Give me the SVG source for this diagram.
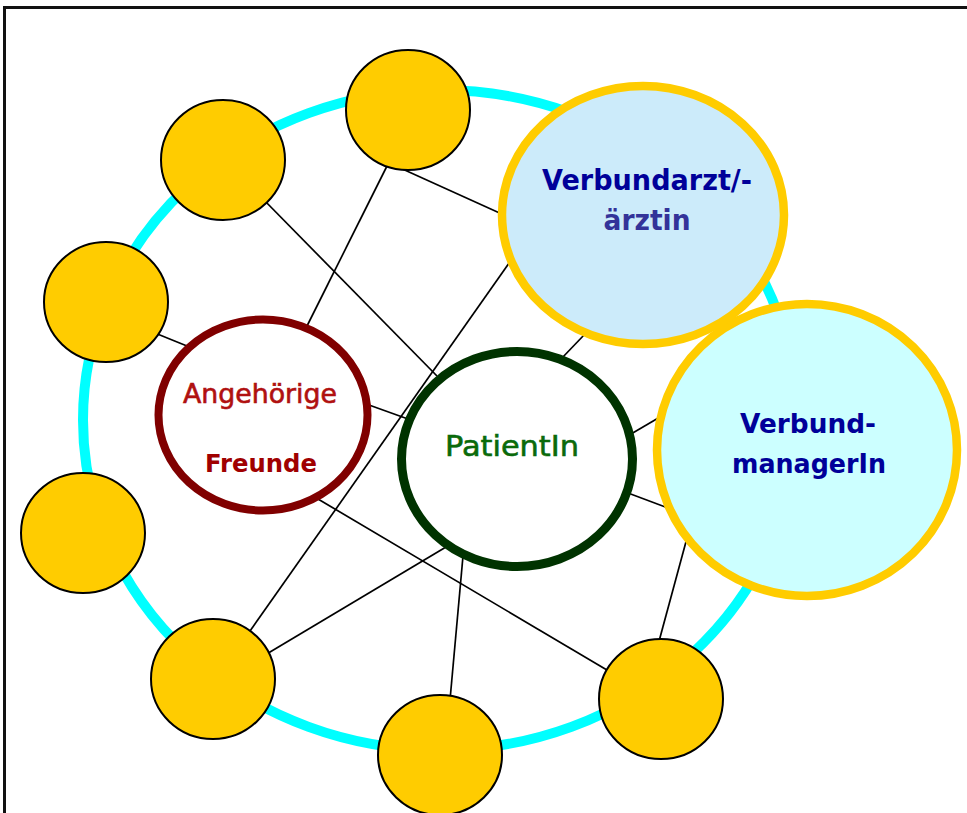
<svg xmlns="http://www.w3.org/2000/svg" width="967" height="813" viewBox="0 0 967 813">
  <style>
    .frame { fill: none; stroke: #111; stroke-width: 3; }
    .ring { fill: none; stroke: #00FFFF; stroke-width: 10; }
    .link { stroke: #000; stroke-width: 1.7; fill: none; }
    .member { fill: #FFCC00; stroke: #000; stroke-width: 2; }
    .lbl { font-family: "DejaVu Sans", Verdana, sans-serif; text-anchor: middle; }
    .thick { stroke-width: 0.6; }
  </style>

  <rect class="frame" x="4.5" y="7.5" width="1000" height="900"/>

  <!-- network ring -->
  <ellipse class="ring" cx="440" cy="420" rx="357" ry="330"/>

  <!-- connectors -->
  <g id="connectors">
    <line class="link" x1="390" y1="160" x2="306" y2="328"/>
    <line class="link" x1="398" y1="167" x2="504" y2="215"/>
    <line class="link" x1="262" y1="198" x2="437" y2="376"/>
    <line class="link" x1="150" y1="331" x2="187" y2="346"/>
    <line class="link" x1="250" y1="631" x2="512" y2="259"/>
    <line class="link" x1="265" y1="655" x2="446" y2="547"/>
    <line class="link" x1="318" y1="499" x2="612" y2="673"/>
    <line class="link" x1="463" y1="556" x2="450" y2="700"/>
    <line class="link" x1="658" y1="645" x2="687" y2="538"/>
    <line class="link" x1="628" y1="493" x2="668" y2="508"/>
    <line class="link" x1="631" y1="434" x2="660" y2="417"/>
    <line class="link" x1="561" y1="359" x2="585" y2="334"/>
    <line class="link" x1="369" y1="405" x2="408" y2="419"/>
  </g>

  <!-- outer members -->
  <g id="m1"><ellipse class="member" cx="408" cy="110" rx="62" ry="60"/></g>
  <g id="m2"><ellipse class="member" cx="223" cy="160" rx="62" ry="60"/></g>
  <g id="m3"><ellipse class="member" cx="106" cy="302" rx="62" ry="60"/></g>
  <g id="m4"><ellipse class="member" cx="83" cy="533" rx="62" ry="60"/></g>
  <g id="m5"><ellipse class="member" cx="213" cy="679" rx="62" ry="60"/></g>
  <g id="m6"><ellipse class="member" cx="440" cy="755" rx="62" ry="60"/></g>
  <g id="m7"><ellipse class="member" cx="661" cy="699" rx="62" ry="60"/></g>

  <!-- relatives / friends -->
  <g id="angehoerige">
    <ellipse cx="263" cy="415" rx="104.5" ry="95.5" fill="#FFFFFF" stroke="#800000" stroke-width="8"/>
    <text class="lbl thick" x="260" y="403" font-size="26" fill="#B01010" stroke="#B01010" textLength="154" lengthAdjust="spacingAndGlyphs">Angehörige</text>
    <text class="lbl" x="261" y="472" font-size="25" font-weight="bold" fill="#A00000" textLength="112" lengthAdjust="spacingAndGlyphs">Freunde</text>
  </g>

  <!-- patient -->
  <g id="patient">
    <ellipse cx="517" cy="459" rx="115.5" ry="107.5" fill="#FFFFFF" stroke="#003300" stroke-width="9"/>
    <text class="lbl thick" x="512" y="456" font-size="29" fill="#0A6A0A" stroke="#0A6A0A" textLength="134" lengthAdjust="spacingAndGlyphs">PatientIn</text>
  </g>

  <!-- network manager -->
  <g id="manager">
    <ellipse cx="807" cy="450" rx="150" ry="146" fill="#CCFFFF" stroke="#FFCC00" stroke-width="8.5"/>
    <text class="lbl" x="808" y="433" font-size="27" font-weight="bold" fill="#000099" textLength="136" lengthAdjust="spacingAndGlyphs">Verbund-</text>
    <text class="lbl" x="809" y="473" font-size="27" font-weight="bold" fill="#000099" textLength="154" lengthAdjust="spacingAndGlyphs">managerIn</text>
  </g>

  <!-- network physician -->
  <g id="arzt">
    <ellipse cx="643" cy="215" rx="141" ry="129" fill="#CCEBFA" stroke="#FFCC00" stroke-width="8.5"/>
    <text class="lbl" x="647" y="190" font-size="28" font-weight="bold" fill="#000099" textLength="210" lengthAdjust="spacingAndGlyphs">Verbundarzt/-</text>
    <text class="lbl" x="647" y="230" font-size="28" font-weight="bold" fill="#333399" textLength="87" lengthAdjust="spacingAndGlyphs">ärztin</text>
  </g>
</svg>
